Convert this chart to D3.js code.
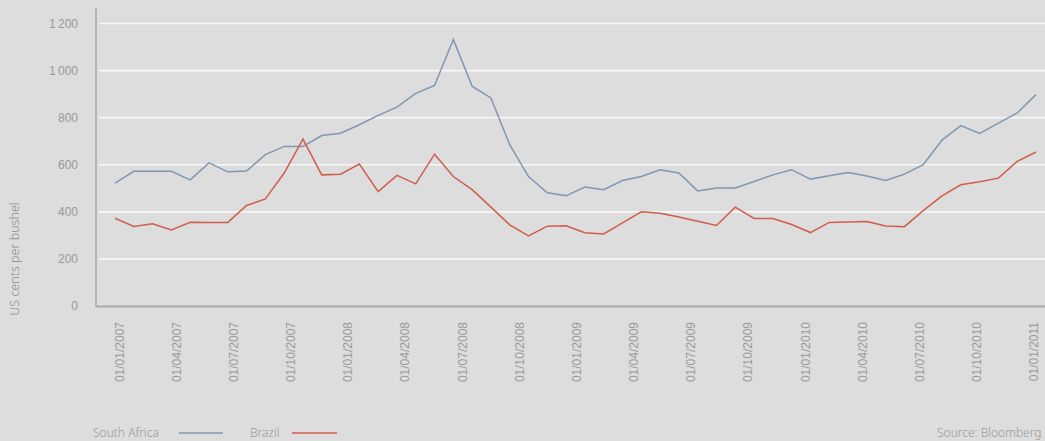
<!DOCTYPE html>
<html>
<head>
<meta charset="utf-8">
<script src="https://cdn.jsdelivr.net/npm/d3@7"></script>
<style>
  html, body { margin: 0; padding: 0; background: #dddddd; }
  svg { display: block; font-family: "Noto Sans", "Open Sans", sans-serif; font-weight: 300; }
  text { font-variant-numeric: oldstyle-nums; font-feature-settings: "onum" 1; }
</style>
</head>
<body>
<div id="chart"></div>
<script>
const southAfrica = [522, 572, 572, 572, 536, 608, 570, 573, 643, 678,
  678, 724, 734, 770, 810, 845, 903, 937, 1132, 934,
  884, 685, 550, 481, 468, 505, 494, 533, 550, 579,
  565, 489, 501, 501, 529, 557, 579, 539, 553, 567,
  552, 533, 560, 600, 705, 766, 733, 777, 820, 898];
const brazil = [373, 338, 349, 323, 356, 355, 355, 427, 455, 565,
  709, 557, 560, 603, 486, 555, 519, 645, 550, 494,
  420, 345, 298, 339, 341, 311, 306, 353, 400, 394,
  378, 360, 342, 420, 372, 372, 346, 312, 355, 357,
  359, 340, 337, 405, 468, 515, 528, 543, 614, 654];
const tickLabels = ["01/01/2007", "01/04/2007", "01/07/2007", "01/10/2007",
  "01/01/2008", "01/04/2008", "01/07/2008", "01/10/2008",
  "01/01/2009", "01/04/2009", "01/07/2009", "01/10/2009",
  "01/01/2010", "01/04/2010", "01/07/2010", "01/10/2010", "01/01/2011"];
const yTicks = [0, 200, 400, 600, 800, 1000, 1200];

const width = 1045, height = 441;
const saColor = "#8196b0";
const brColor = "#cf5e4c";
const textColor = "#999999";
const axisColor = "#a9a9a9";

const svg = d3.select("#chart")
  .append("svg")
  .attr("width", width)
  .attr("height", height);

svg.append("rect").attr("width", width).attr("height", height).attr("fill", "#dddddd");

const plotLeft = 96, plotRight = 1045;

// data index -> x
const x = d3.scaleLinear().domain([0, southAfrica.length - 1]).range([115, 1036]);
// quarterly labels
const xLab = d3.scalePoint().domain(tickLabels).range([119, 1033.5]);
const y = d3.scaleLinear().domain([0, 1200]).range([306, 23.5]);

// grid lines
svg.append("g")
  .selectAll("line")
  .data(yTicks.filter(d => d > 0))
  .join("line")
  .attr("x1", plotLeft + 3)
  .attr("x2", plotRight)
  .attr("y1", d => y(d))
  .attr("y2", d => y(d))
  .attr("stroke", "#f7f7f7")
  .attr("stroke-width", 1.6);

// y axis
const yAxis = svg.append("g")
  .attr("transform", "translate(" + plotLeft + ",0)")
  .call(d3.axisLeft(y).tickValues(yTicks).tickSize(0).tickPadding(18)
    .tickFormat(d => d >= 1000 ? d3.format(",")(d).replace(",", "\u2009") : d));
yAxis.select(".domain").remove();
yAxis.selectAll("text")
  .style("font-size", "12px")
  .attr("fill", textColor);

svg.append("line")
  .attr("x1", plotLeft).attr("x2", plotLeft)
  .attr("y1", 8).attr("y2", 307)
  .attr("stroke", axisColor).attr("stroke-width", 1.5);

// x axis
svg.append("line")
  .attr("x1", plotLeft).attr("x2", plotRight)
  .attr("y1", 306.5).attr("y2", 306.5)
  .attr("stroke", axisColor).attr("stroke-width", 2);

const xAxis = svg.append("g")
  .attr("transform", "translate(0,306)")
  .call(d3.axisBottom(xLab).tickSize(0));
xAxis.select(".domain").remove();
xAxis.selectAll("text")
  .attr("transform", "rotate(-90)")
  .attr("x", -16)
  .attr("y", 0)
  .attr("dy", "0.35em")
  .attr("text-anchor", "end")
  .style("font-size", "12px")
  .attr("fill", textColor);

// y title
svg.append("text")
  .attr("transform", "translate(19,259) rotate(-90)")
  .attr("text-anchor", "middle")
  .style("font-size", "12.5px")
  .attr("fill", "#8e8e8e")
  .text("US cents per bushel");

// lines
const line = d3.line().x((d, i) => x(i)).y(d => y(d));

svg.append("path")
  .datum(southAfrica)
  .attr("fill", "none")
  .attr("stroke", saColor)
  .attr("stroke-width", 1.5)
  .attr("d", line);

svg.append("path")
  .datum(brazil)
  .attr("fill", "none")
  .attr("stroke", brColor)
  .attr("stroke-width", 1.5)
  .attr("d", line);

// legend
const legend = svg.append("g").style("font-size", "12px");
legend.append("text").attr("x", 93).attr("y", 437).attr("fill", textColor).text("South Africa");
legend.append("line").attr("x1", 179).attr("x2", 223).attr("y1", 433).attr("y2", 433)
  .attr("stroke", saColor).attr("stroke-width", 1.5);
legend.append("text").attr("x", 250).attr("y", 437).attr("fill", textColor).text("Brazil");
legend.append("line").attr("x1", 292).attr("x2", 337).attr("y1", 433).attr("y2", 433)
  .attr("stroke", brColor).attr("stroke-width", 1.5);

svg.append("text")
  .attr("x", 937).attr("y", 437)
  .style("font-size", "12px")
  .attr("fill", textColor)
  .text("Source: Bloomberg");
</script>
</body>
</html>
